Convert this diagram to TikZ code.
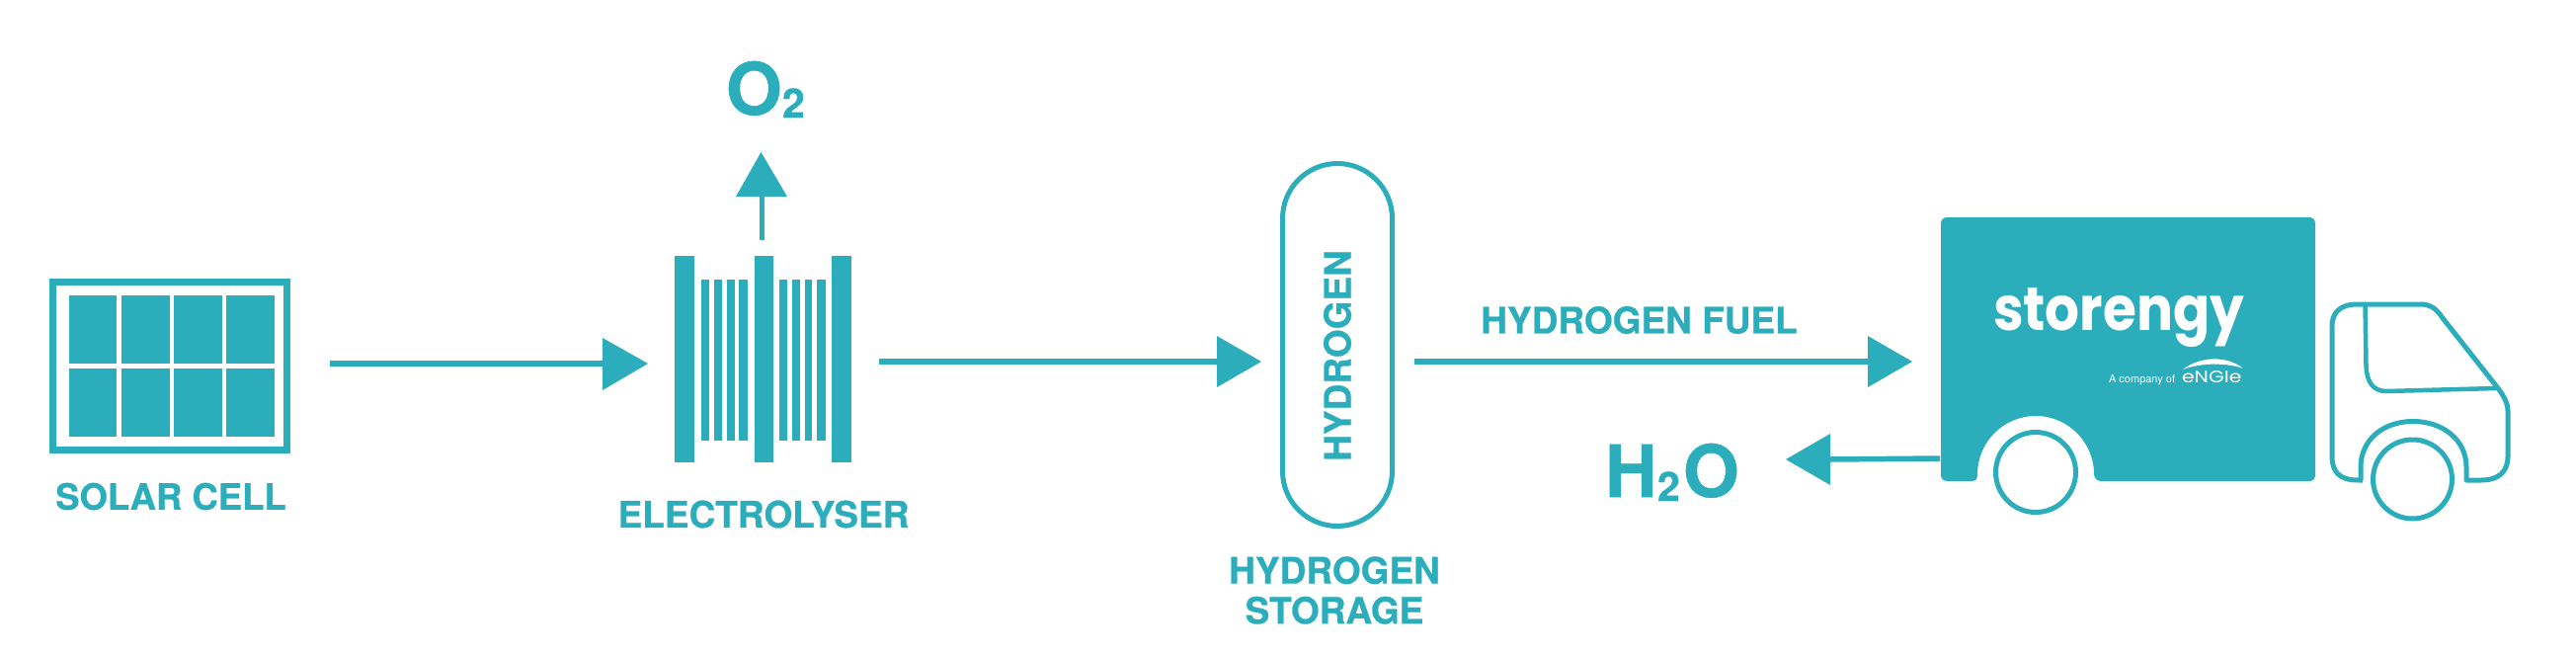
\documentclass[tikz,border=0pt]{standalone}
\usepackage{fontspec}
\setmainfont{TeX Gyre Heros}[BoldFeatures={FakeBold=0.7}]
\newfontfamily\logofont{Poppins}
\definecolor{teal}{HTML}{2BADBB}
\tikzset{
  x=1pt,y=-1pt,
  every node/.style={inner sep=0pt,outer sep=0pt,text=teal},
  flow/.style={draw=teal,line width=5.5pt},
  lab/.style={font=\fontsize{37}{41}\selectfont\bfseries,align=center},
  chem/.style={font=\fontsize{73}{73}\selectfont\bfseries},
  subs/.style={font=\fontsize{41}{41}\selectfont\bfseries},
  outline/.style={draw=teal,line width=5pt,fill=none},
}
\begin{document}
\begin{tikzpicture}
\useasboundingbox (0,0) rectangle (2608,664);
% solar cell
\draw[teal,line width=7pt] (53.5,285.5) rectangle (290.5,455.5);
\foreach \xa/\xb in {70/118,123/171.5,176/224.5,229/277.6}{
  \fill[teal] (\xa,298.7) rectangle (\xb,368);
  \fill[teal] (\xa,373) rectangle (\xb,442);
}
\node[lab,anchor=center,font=\fontsize{36.5}{41}\selectfont\bfseries] (solarlab) at (173,502.5) {SOLAR CELL};
\coordinate (solarout) at (334,368);
% electrolyser
\foreach \xa/\xb in {683/702.7,763.7/783,842/862}{\fill[teal] (\xa,259) rectangle (\xb,468);}
\foreach \xa/\xb in {710/717.7,722.7/731.3,736.3/743.7,748.3/757.3,789/796.7,801.7/810.3,815/822.3,827.3/836}{\fill[teal] (\xa,283) rectangle (\xb,445.7);}
\node[lab] (ellab) at (773,520.5) {ELECTROLYSER};
% arrows
\coordinate (h1) at (610,368);
\coordinate (t1) at (656,368);
\draw[flow] (solarout) -- (h1);
\fill[teal] (610,342) -- (t1) -- (610,395) -- cycle;
\coordinate (elout) at (890,366);
\coordinate (h2) at (1232,366);
\draw[flow] (elout) -- (h2);
\fill[teal] (1232,340) -- (1277,366) -- (1232,392) -- cycle;
% O2
\coordinate (o2s) at (771.7,242.7);
\coordinate (o2h) at (771.7,199);
\draw[flow] (o2s) -- (o2h);
\fill[teal] (745,199) -- (770.5,154) -- (797,199) -- cycle;
\node[chem,anchor=base west] (otxt) at (735,116) {O};
\node[subs,anchor=base west] (otwo) at (792,119) {2};
% capsule
\draw[outline,rounded corners=55.5pt] (1298.5,165.5) rectangle (1409.5,532.5);
\node[lab,rotate=90] (hyd) at (1354,360) {HYDROGEN};
\node[lab] (storlab) at (1351,597.5) {HYDROGEN\\[-0.5pt]STORAGE};
% arrow 3
\coordinate (caps) at (1432,366);
\coordinate (h3) at (1891,366);
\draw[flow] (caps) -- (h3);
\fill[teal] (1891,340) -- (1936,366) -- (1891,392) -- cycle;
\node[lab] (fuel) at (1659.5,324) {HYDROGEN FUEL};
% H2O
\coordinate (h2os) at (1964,464);
\coordinate (h4) at (1853,465);
\draw[flow] (h2os) -- (h4);
\fill[teal] (1853,439) -- (1808,465) -- (1853,491) -- cycle;
\node[chem,anchor=base west] (htxt) at (1625,503) {H};
\node[subs,anchor=base west] (htwo) at (1678,507) {2};
\node[chem,anchor=base west] (hotxt) at (1704,503) {O};
% truck box
\fill[teal] (1971,220) -- (2338,220) arc[start angle=-90,end angle=0,radius=6] -- (2344,481) arc[start angle=0,end angle=90,radius=6] -- (2127,487)
  arc[start angle=90,end angle=180,radius=7] -- (2120,480)
  arc[start angle=0,end angle=-180,radius=59] -- (2002,482) arc[start angle=0,end angle=90,radius=5] -- (1971,487)
  arc[start angle=90,end angle=180,radius=6] -- (1965,226) arc[start angle=180,end angle=270,radius=6] -- cycle;
\draw[outline] (2061,478) circle (40.5);
% cab
\draw[outline,line join=round] (2392,486) -- (2387,486) .. controls (2369,486) and (2361,478) .. (2361,462) -- (2361,330)
  .. controls (2361,315) and (2371,308) .. (2386,308) -- (2451,308)
  .. controls (2461,308) and (2467,313) .. (2473,322) -- (2529,393)
  .. controls (2535,401) and (2539,408) .. (2539,416) -- (2539,462)
  .. controls (2539,478) and (2529,486) .. (2512,486) -- (2497,486)
  -- (2497,473) .. controls (2497,445) and (2473,426.5) .. (2443,426.5)
  .. controls (2413,426.5) and (2390,445) .. (2390,473) -- (2390,486);
\draw[outline,line width=4.5pt] (2394.5,308) -- (2395.5,370) .. controls (2396,386) and (2402,396) .. (2416,396) -- (2527,393);
\draw[outline] (2442.5,485) circle (40);
% logo
\node[anchor=base west,text=white,font=\logofont\fontsize{62}{62}\selectfont\bfseries] (stor) at (2018,334) {\scalebox{0.885}[1]{storengy}};
\node[anchor=base west,text=white,font=\fontsize{11}{11}\selectfont] (acomp) at (2135,387) {A company of};
\node[anchor=base west,text=white,font=\logofont\fontsize{17}{17}\selectfont] (engie) at (2209,387) {\scalebox{1.2}[1]{eNGIe}};
\fill[white] (2210,374) .. controls (2228,360) and (2255,360) .. (2271,373) .. controls (2255,367) and (2228,367) .. (2210,374) -- cycle;
\end{tikzpicture}
\end{document}
